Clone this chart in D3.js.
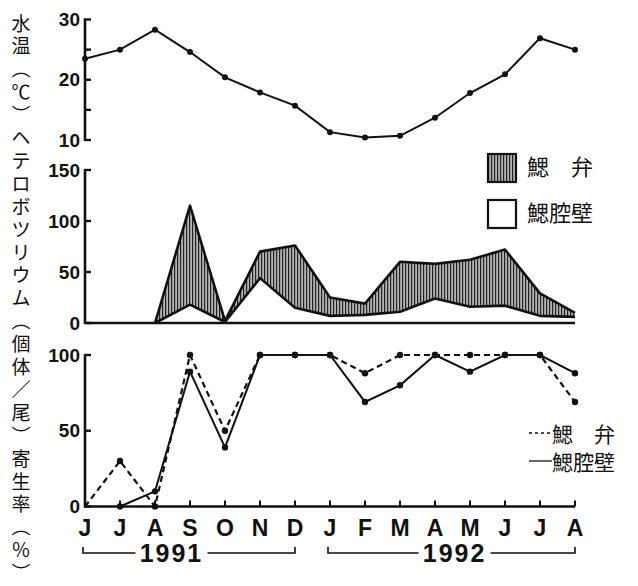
<!DOCTYPE html>
<html>
<head>
<meta charset="utf-8">
<script src="https://cdn.jsdelivr.net/npm/d3@7"></script>
<style>
  body { margin: 0; background: #fff; }
  svg { display: block; }
  .num { font-family: "Liberation Sans", Arial, sans-serif; font-weight: bold; fill: #111; }
  .jp { font-family: "Noto Sans CJK JP", sans-serif; fill: #111; }
</style>
</head>
<body>
<div class="layout"></div>
<script>
// months from June 1991 to August 1992
var months = ["J","J","A","S","O","N","D","J","F","M","A","M","J","J","A"];
var yearLabels = ["1991", "1992"];
var yearSpans = [[0, 6], [7, 14]];

// water temperature (C)
var waterTemp = [23.5, 25, 28.3, 24.6, 20.4, 17.9, 15.7, 11.3, 10.4, 10.7, 13.7, 17.8, 20.9, 26.9, 25];

// Heterobothrium, individuals per fish
var wallCount = [0, 0, 0, 18, 1, 44, 15, 7, 8, 11, 24, 16, 17, 7, 6];
var filamentCount = [0, 0, 0, 97, 1, 26, 61, 18, 11, 49, 34, 46, 55, 22, 4];

// prevalence (%)
var filamentRate = [0, 30, 0, 100, 50, 100, 100, 100, 88, 100, 100, 100, 100, 100, 69];
var wallRate = [null, 0, 10, 89, 39, 100, 100, 100, 69, 80, 100, 89, 100, 100, 88];

var tempTicks = [10, 15, 20, 25, 30];
var tempLabels = [10, 20, 30];
var countTicks = [0, 50, 100, 150];
var rateTicks = [0, 50, 100];

var titleChars = ["水","温","︵","℃","︶","ヘ","テ","ロ","ボ","ツ","リ","ウ","ム",
                  "︵","個","体","／","尾","︶","寄","生","率","︵","％","︶"];

var svg = d3.select("div.layout")
  .append("svg")
  .attr("width", 638)
  .attr("height", 586);

var defs = svg.append("defs");
var pat = defs.append("pattern")
  .attr("id", "hatch")
  .attr("patternUnits", "userSpaceOnUse")
  .attr("width", 3)
  .attr("height", 10);
pat.append("rect").attr("width", 3).attr("height", 10).attr("fill", "#b4b4b4");
pat.append("line")
  .attr("x1", 0.6).attr("x2", 0.6).attr("y1", 0).attr("y2", 10)
  .attr("stroke", "#222").attr("stroke-width", 1.2);

var x = d3.scaleLinear().domain([0, months.length - 1]).range([85, 575]);

var yTemp = d3.scaleLinear().domain([10, 30]).range([140, 19.5]);
var yCount = d3.scaleLinear().domain([0, 150]).range([323, 170]);
var yRate = d3.scaleLinear().domain([0, 100]).range([506.5, 355]);

// draws a y axis: vertical line, ticks to the right, labels to the left
function drawYAxis(scale, ticks, labels) {
  var g = svg.append("g");
  var ext = scale.domain();
  g.append("line")
    .attr("x1", 85).attr("x2", 85)
    .attr("y1", scale(ext[0]) + 1).attr("y2", scale(ext[1]) - 1)
    .attr("stroke", "#111").attr("stroke-width", 2.6);
  g.selectAll("line.tick")
    .data(ticks)
    .enter()
    .append("line")
    .attr("class", "tick")
    .attr("x1", 84).attr("x2", 91)
    .attr("y1", function(d) { return scale(d); })
    .attr("y2", function(d) { return scale(d); })
    .attr("stroke", "#111").attr("stroke-width", 2.4);
  g.selectAll("text")
    .data(labels)
    .enter()
    .append("text")
    .attr("class", "num")
    .attr("x", 80)
    .attr("y", function(d) { return scale(d) + 6.5; })
    .attr("text-anchor", "end")
    .attr("font-size", 19)
    .text(function(d) { return d; });
}

drawYAxis(yTemp, tempTicks, tempLabels);
drawYAxis(yCount, countTicks, countTicks);
drawYAxis(yRate, rateTicks, rateTicks);

// water temperature
var tempLine = d3.line()
  .x(function(d, i) { return x(i); })
  .y(function(d) { return yTemp(d); });

svg.append("path")
  .attr("d", tempLine(waterTemp))
  .attr("fill", "none")
  .attr("stroke", "#111")
  .attr("stroke-width", 2);

svg.selectAll("circle.temp")
  .data(waterTemp)
  .enter()
  .append("circle")
  .attr("class", "temp")
  .attr("cx", function(d, i) { return x(i); })
  .attr("cy", function(d) { return yTemp(d); })
  .attr("r", 3)
  .attr("fill", "#111");

// stacked counts
var countRows = months.map(function(m, i) {
  return {i: i, wall: wallCount[i], filament: filamentCount[i]};
});
var stacked = d3.stack().keys(["wall", "filament"])(countRows);

var area = d3.area()
  .x(function(d) { return x(d.data.i); })
  .y0(function(d) { return yCount(d[0]); })
  .y1(function(d) { return yCount(d[1]); });

var startIdx = 2;
svg.append("path")
  .attr("d", area(stacked[1].slice(startIdx)))
  .attr("fill", "url(#hatch)")
  .attr("stroke", "none");

var edge = d3.line()
  .x(function(d) { return x(d.data.i); })
  .y(function(d) { return yCount(d[1]); });

stacked.forEach(function(layer) {
  svg.append("path")
    .attr("d", edge(layer.slice(startIdx)))
    .attr("fill", "none")
    .attr("stroke", "#111")
    .attr("stroke-width", 2.6)
    .attr("stroke-linejoin", "round");
});

// baseline of the count panel
svg.append("line")
  .attr("x1", 85).attr("x2", x(months.length - 1))
  .attr("y1", yCount(0)).attr("y2", yCount(0))
  .attr("stroke", "#111").attr("stroke-width", 2.6);

// legend for counts
var legCount = [{name: "鰓　弁", fill: "url(#hatch)"}, {name: "鰓腔壁", fill: "#fff"}];
var lg = svg.selectAll("g.legc")
  .data(legCount)
  .enter()
  .append("g")
  .attr("class", "legc")
  .attr("transform", function(d, i) { return "translate(488," + (154 + i * 46) + ")"; });
lg.append("rect")
  .attr("width", 28).attr("height", 28)
  .attr("fill", function(d) { return d.fill; })
  .attr("stroke", "#111").attr("stroke-width", 2.2);
lg.append("text")
  .attr("class", "jp")
  .attr("x", 39).attr("y", 21)
  .attr("font-size", 22)
  .text(function(d) { return d.name; });

// prevalence panel x axis
svg.append("line")
  .attr("x1", 85).attr("x2", x(months.length - 1))
  .attr("y1", yRate(0)).attr("y2", yRate(0))
  .attr("stroke", "#111").attr("stroke-width", 2.6);

svg.selectAll("line.mtick")
  .data(months)
  .enter()
  .append("line")
  .attr("class", "mtick")
  .attr("x1", function(d, i) { return x(i); })
  .attr("x2", function(d, i) { return x(i); })
  .attr("y1", yRate(0)).attr("y2", yRate(0) - 6)
  .attr("stroke", "#111").attr("stroke-width", 2);

svg.selectAll("text.month")
  .data(months)
  .enter()
  .append("text")
  .attr("class", "num month")
  .attr("x", function(d, i) { return x(i); })
  .attr("y", 536)
  .attr("text-anchor", "middle")
  .attr("font-size", 23)
  .text(function(d) { return d; });

// year brackets; the year label sits a bit left of the bracket's middle
var yearLabelAt = [2.47, 10.56];
yearLabels.forEach(function(label, k) {
  var x0 = x(yearSpans[k][0]) - 2, x1 = x(yearSpans[k][1]);
  var mid = x(yearLabelAt[k]);
  var half = 36;
  svg.append("path")
    .attr("d", "M" + x0 + ",547V553H" + (mid - half) + "M" + (mid + half) + ",553H" + x1 + "V547")
    .attr("fill", "none")
    .attr("stroke", "#111")
    .attr("stroke-width", 1.6);
  svg.append("text")
    .attr("class", "num")
    .attr("x", mid)
    .attr("y", 562)
    .attr("text-anchor", "middle")
    .attr("font-size", 25)
    .attr("letter-spacing", 2)
    .text(label);
});

// prevalence lines
var rateLine = d3.line()
  .defined(function(d) { return d !== null; })
  .x(function(d, i) { return x(i); })
  .y(function(d) { return yRate(d); });

svg.append("path")
  .attr("d", rateLine(filamentRate))
  .attr("fill", "none")
  .attr("stroke", "#111")
  .attr("stroke-width", 2.2)
  .attr("stroke-dasharray", "6,4");

svg.append("path")
  .attr("d", rateLine(wallRate))
  .attr("fill", "none")
  .attr("stroke", "#111")
  .attr("stroke-width", 2);

[filamentRate, wallRate].forEach(function(series, k) {
  svg.selectAll("circle.rate" + k)
    .data(series.map(function(v, i) { return {v: v, i: i}; })
      .filter(function(d) { return d.v !== null && d.i > 0; }))
    .enter()
    .append("circle")
    .attr("class", "rate" + k)
    .attr("cx", function(d) { return x(d.i); })
    .attr("cy", function(d) { return yRate(d.v); })
    .attr("r", 3.2)
    .attr("fill", "#111");
});

// legend for prevalence
var legRate = [{name: "鰓　弁", dash: "3,3"}, {name: "鰓腔壁", dash: null}];
var lr = svg.selectAll("g.legr")
  .data(legRate)
  .enter()
  .append("g")
  .attr("class", "legr")
  .attr("transform", function(d, i) { return "translate(529," + (433 + i * 28) + ")"; });
lr.append("line")
  .attr("x1", 0).attr("x2", 23)
  .attr("stroke", "#111")
  .attr("stroke-width", 1.3)
  .attr("stroke-dasharray", function(d) { return d.dash; });
lr.append("text")
  .attr("class", "jp")
  .attr("x", 23).attr("y", 0)
  .attr("dominant-baseline", "central")
  .attr("font-size", 21)
  .text(function(d) { return d.name; });

// vertical axis title, one character per step
var titleStep = 22.9;
svg.selectAll("text.title")
  .data(titleChars)
  .enter()
  .append("text")
  .attr("class", "jp title")
  .attr("x", 21)
  .attr("y", function(d, k) { return 22 + k * titleStep; })
  .attr("text-anchor", "middle")
  .attr("dominant-baseline", "central")
  .attr("font-size", 19)
  .text(function(d) { return d; });
</script>
</body>
</html>
